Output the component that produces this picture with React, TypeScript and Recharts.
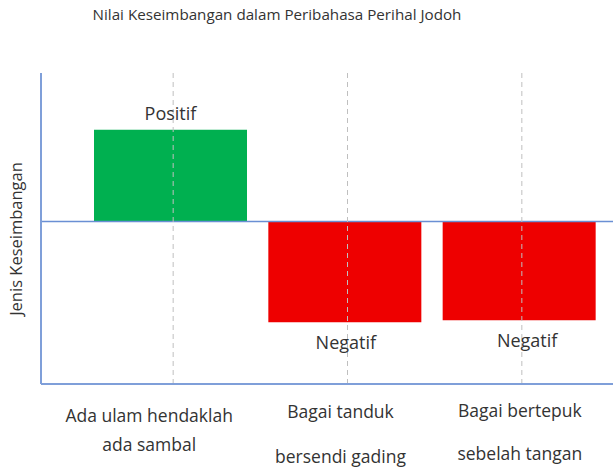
import React from "react";
import { BarChart, Bar, XAxis, YAxis, ReferenceLine, Cell, LabelList, Rectangle } from "recharts";

const categories = ["Ada ulam hendaklah ada sambal", "Bagai tanduk bersendi gading", "Bagai bertepuk sebelah tangan"];
const tickLines = [
  ["Ada ulam hendaklah", "ada sambal"],
  ["Bagai tanduk", "bersendi gading"],
  ["Bagai bertepuk", "sebelah tangan"],
];
const values = [0.92, -1.01, -0.99];
const valueLabels = ["Positif", "Negatif", "Negatif"];
const barColors = ["#00B050", "#EE0000", "#EE0000"];

const data = categories.map((c, i) => ({ name: c, value: values[i], label: valueLabels[i] }));

const FONT = "'Open Sans', sans-serif";
const TEXT = "#333333";

// styling offsets for the tick label blocks (dx, line1 dy, line2 dy)
const tickStyle = [
  { dx: -24, y1: 25, y2: 54 },
  { dx: -7, y1: 21, y2: 66 },
  { dx: -2, y1: 20, y2: 63 },
];
const BAR_SHIFT = -3;

const Tick = (props: any) => {
  const { x, y, index } = props;
  const s = tickStyle[index] || tickStyle[0];
  const lines = tickLines[index] || [];
  return (
    <g>
      <text x={x + s.dx} y={y + s.y1} textAnchor="middle" dominantBaseline="middle" fontFamily={FONT} fontSize={17.5} fill={TEXT}>
        {lines[0]}
      </text>
      <text x={x + s.dx} y={y + s.y2} textAnchor="middle" dominantBaseline="middle" fontFamily={FONT} fontSize={17.5} fill={TEXT}>
        {lines[1]}
      </text>
    </g>
  );
};

const ShiftedBar = (props: any) => <Rectangle {...props} x={props.x + BAR_SHIFT} />;

const ValueLabel = (props: any) => {
  const { x, y, width, height, value, index } = props;
  const v = values[index];
  const top = Math.min(y, y + height);
  const bottom = Math.max(y, y + height);
  const cx = x + width / 2 + (index === 0 ? -3 : index === 2 ? 5 : -2);
  const ty = v >= 0 ? top - 15 : bottom + 22;
  return (
    <text x={cx} y={ty} textAnchor="middle" dominantBaseline="middle" fontFamily={FONT} fontSize={18} fill={TEXT}>
      {value}
    </text>
  );
};

export default function App() {
  return (
    <div style={{ position: "absolute", left: 0, top: 0, width: 613, height: 467, background: "#fff" }}>
      <BarChart width={613} height={467} data={data} margin={{ top: 73, right: 0, bottom: 0, left: 40 }}>
        <text x={277} y={16} textAnchor="middle" dominantBaseline="middle" fontFamily={FONT} fontSize={15.2} fill={TEXT}>
          Nilai Keseimbangan dalam Peribahasa Perihal Jodoh
        </text>
        <text
          x={18}
          y={239}
          transform="rotate(-90 18 239)"
          textAnchor="middle"
          dominantBaseline="middle"
          fontFamily={FONT}
          fontSize={16.5}
          fill={TEXT}
        >
          Jenis Keseimbangan
        </text>
        <XAxis
          dataKey="name"
          height={83}
          padding={{ left: 45, right: 4 }}
          tickLine={false}
          axisLine={{ stroke: "#7F9FD9", strokeWidth: 2 }}
          tick={<Tick />}
          interval={0}
        />
        <YAxis
          width={1}
          domain={[-1.63, 1.49]}
          tick={false}
          tickLine={false}
          axisLine={{ stroke: "#7F9FD9", strokeWidth: 2 }}
        />
        <ReferenceLine y={0} stroke="#6A8FD4" strokeWidth={1.5} />
        <Bar dataKey="value" barSize={153} isAnimationActive={false} shape={<ShiftedBar />}>
          {data.map((d, i) => (
            <Cell key={i} fill={barColors[i]} />
          ))}
          <LabelList dataKey="label" content={<ValueLabel />} />
        </Bar>
        {categories.map((c) => (
          <ReferenceLine key={c} x={c} stroke="#BFBFBF" strokeDasharray="5 4" strokeWidth={1} />
        ))}
      </BarChart>
    </div>
  );
}
